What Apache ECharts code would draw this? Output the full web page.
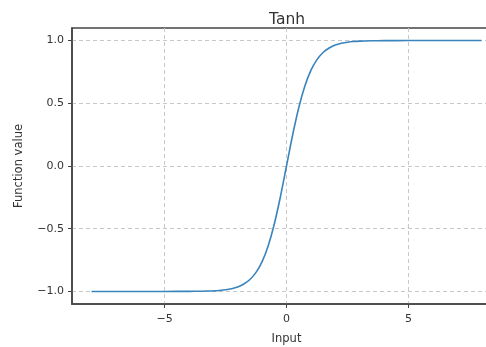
<!DOCTYPE html>
<html>
<head>
<meta charset="utf-8">
<script src="https://cdn.jsdelivr.net/npm/echarts@6/dist/echarts.min.js"></script>
<style>
html,body{margin:0;padding:0;background:#fff;}
#chart{width:486px;height:347px;}
</style>
</head>
<body>
<div id="chart"></div>
<script>
// Values
var inputs = [-8, -7, -6, -5, -4, -3.5, -3, -2.75, -2.5, -2.25, -2, -1.75, -1.5, -1.25, -1, -0.75, -0.5, -0.25, 0,
              0.25, 0.5, 0.75, 1, 1.25, 1.5, 1.75, 2, 2.25, 2.5, 2.75, 3, 3.5, 4, 5, 6, 7, 8];
var values = [-1.0, -1.0, -1.0, -1.0, -0.999, -0.998, -0.995, -0.992, -0.987, -0.978, -0.964, -0.941, -0.905, -0.848, -0.762, -0.635, -0.462, -0.245, 0.0,
              0.245, 0.462, 0.635, 0.762, 0.848, 0.905, 0.941, 0.964, 0.978, 0.987, 0.992, 0.995, 0.998, 0.999, 1.0, 1.0, 1.0, 1.0];
var xTicks = [-5, 0, 5];
var yTicks = [-1.0, -0.5, 0.0, 0.5, 1.0];
var titleText = 'Tanh';
var xName = 'Input';
var yName = 'Function value';

function fmtMinus(s){ return s.replace('-', '\u2212'); }

var chart = echarts.init(document.getElementById('chart'), null, {renderer:'canvas'});
var fontFam = 'DejaVu Sans';
chart.setOption({
  animation: false,
  backgroundColor: '#fff',
  title: {
    text: titleText,
    left: 264, top: 7,
    textStyle: {fontFamily: fontFam, fontSize: 15.5, fontWeight: 'normal', color: '#333'}
  },
  grid: {
    left: 72, top: 28, width: 429, height: 276,
    outerBoundsMode: 'none', containLabel: false,
    show: true, borderColor: '#444', borderWidth: 1.5, backgroundColor: 'transparent'
  },
  xAxis: {
    type: 'value', min: -8.8, max: 8.8,
    name: xName, nameLocation: 'middle', nameGap: 29,
    nameTextStyle: {fontFamily: fontFam, fontSize: 11.5, color: '#333'},
    axisLine: {show: true, onZero: false, lineStyle: {color: '#444', width: 1.5}},
    axisTick: {show: true, inside: false, length: 4, customValues: xTicks, lineStyle: {color: '#444'}},
    axisLabel: {customValues: xTicks, margin: 10, fontFamily: fontFam, fontSize: 11, color: '#333',
      formatter: function(v){ return fmtMinus(String(v)); }},
    splitLine: {show: true, lineStyle: {color: '#c8c8c8', type: [4, 3], width: 1}}
  },
  yAxis: {
    type: 'value', min: -1.1, max: 1.1,
    name: yName, nameLocation: 'middle', nameGap: 47,
    nameTextStyle: {fontFamily: fontFam, fontSize: 11.5, color: '#333'},
    axisLine: {show: true, onZero: false, lineStyle: {color: '#444', width: 1.5}},
    axisTick: {show: true, inside: false, length: 4, customValues: yTicks, lineStyle: {color: '#444'}},
    axisLabel: {customValues: yTicks, margin: 8, fontFamily: fontFam, fontSize: 11, color: '#333',
      formatter: function(v){ return fmtMinus(Number(v).toFixed(1)); }},
    splitLine: {show: true, lineStyle: {color: '#c8c8c8', type: [4, 3], width: 1}}
  },
  series: [{
    type: 'line',
    data: inputs.map(function(x, i){ return [x, values[i]]; }),
    smooth: 0.3,
    showSymbol: false,
    lineStyle: {color: '#3a84bd', width: 1.6},
    clip: false
  }]
});
</script>
</body>
</html>
